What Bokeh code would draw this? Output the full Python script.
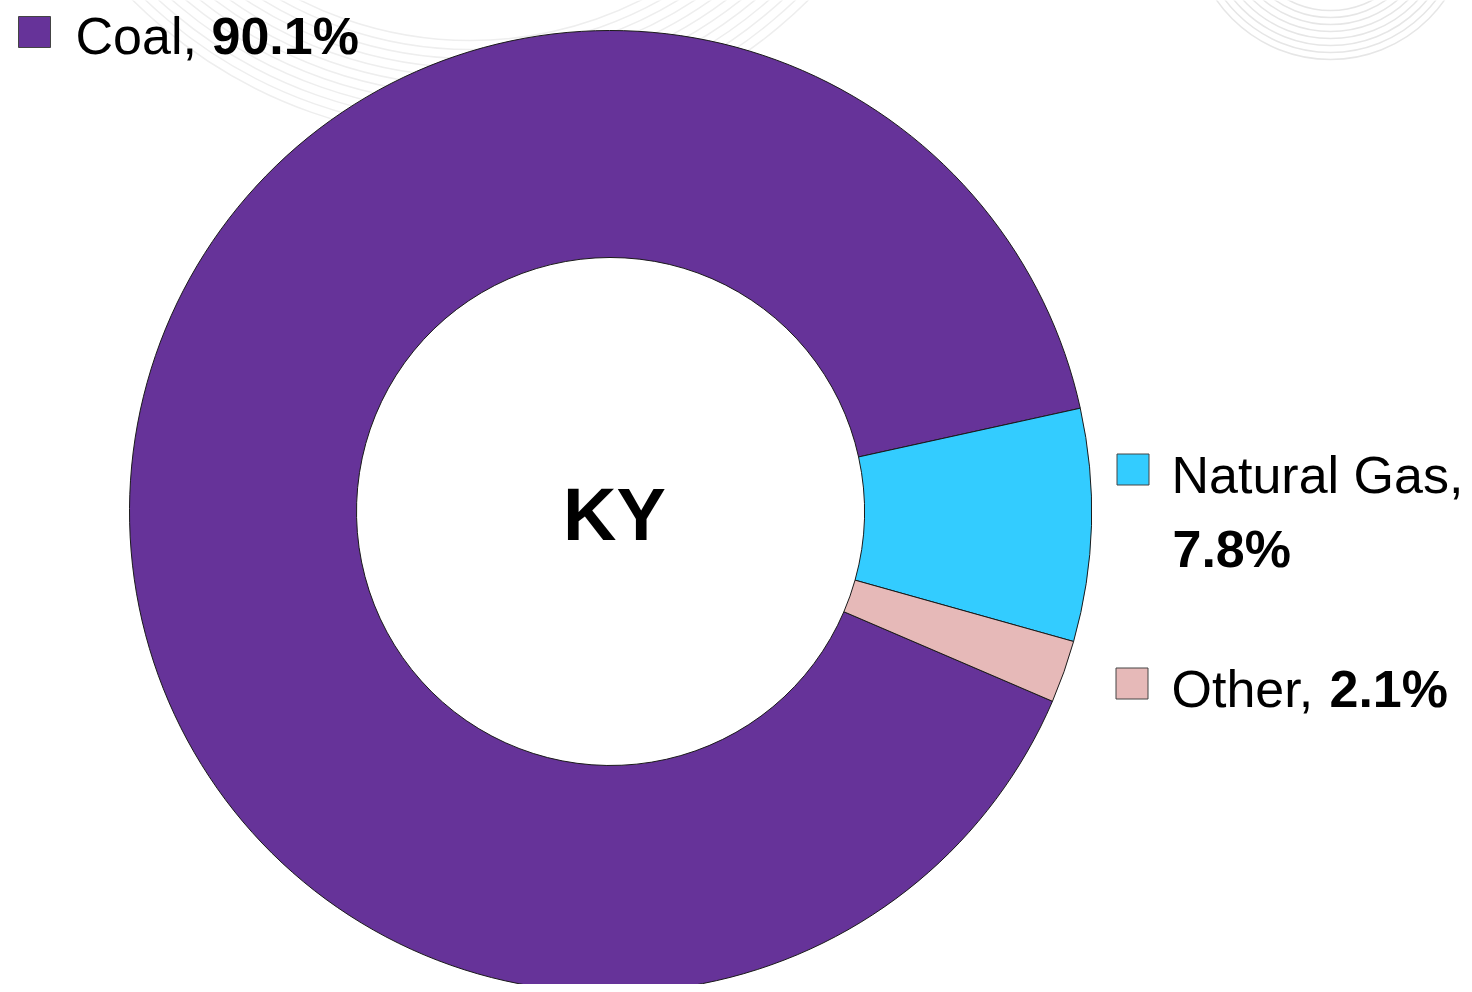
from bokeh.plotting import figure
from bokeh.models import Range1d, ColumnDataSource
from bokeh.core.properties import value
from bokeh.embed import file_html
from bokeh.resources import INLINE
import numpy as np

# ---- data ----
categories = ["Coal", "Natural Gas", "Other"]
shares = [90.1, 7.8, 2.1]
colors = ["#663399", "#33CCFF", "#E6B9B8"]
center_label = "KY"

# ---- layout helpers (screen px -> data) ----
W, H = 1464, 984
def Y(py):
    return H - py

p = figure(width=W, height=H, x_range=Range1d(0, W), y_range=Range1d(0, H),
           output_backend="svg", toolbar_location=None, min_border=0)
p.axis.visible = False
p.grid.visible = False
p.outline_line_color = None
p.background_fill_color = "white"
p.border_fill_color = "white"

# faint decorative watermark curves
wm_r1 = np.arange(90, 140, 7)
p.arc(x=[1330] * len(wm_r1), y=[Y(-80)] * len(wm_r1), radius=wm_r1,
      start_angle=np.radians(180), end_angle=np.radians(360),
      line_color="#e6e6e6", line_width=1.5)
wm_r2 = np.arange(380, 480, 9)
p.arc(x=[470] * len(wm_r2), y=[Y(-340)] * len(wm_r2), radius=wm_r2,
      start_angle=np.radians(190), end_angle=np.radians(350),
      line_color="#eeeeee", line_width=1.5)

# ---- donut ----
cx, cy = 610, Y(511)
r_out, r_in = 481, 254
rot = 12.4 + shares[0] * 3.6  # start angle of first slice (deg)
cum = np.concatenate([[0], np.cumsum(shares)[:-1]])
start = np.radians(rot - cum * 3.6)
end = np.radians(rot - (cum + np.array(shares)) * 3.6)
src = ColumnDataSource(dict(start=start, end=end, color=colors))
p.annular_wedge(x=cx, y=cy, inner_radius=r_in, outer_radius=r_out,
                start_angle="start", end_angle="end", direction="clock",
                fill_color="color", line_color="#1a1a1a", line_width=1, source=src)

FONT = value("Liberation Sans")
p.text(x=[614], y=[Y(514)], text=[center_label], text_font=FONT,
       text_font_style="bold", text_font_size="74px", text_align="center",
       text_baseline="alphabetic", text_color="black")

# ---- legend-style labels ----
sq_x = [34, 1132.5, 1131.5]
sq_y = [Y(31.5), Y(469), Y(683)]
p.rect(x=sq_x, y=sq_y, width=32, height=31, fill_color=colors,
       line_color="#444444", line_width=1)

name_txt = [f"{c}," for c in categories]
val_txt = [f"{s:.1f}%" for s in shares]
name_x = [75, 1171, 1171]
name_y = [Y(35), Y(474), Y(688)]
val_x = [211, 1172, 1329]
val_y = [Y(35), Y(548), Y(688)]
p.text(x=name_x, y=name_y, text=name_txt, text_font=FONT, text_font_size="52px",
       text_baseline="alphabetic", text_color="black")
p.text(x=val_x, y=val_y, text=val_txt, text_font=FONT, text_font_style="bold",
       text_font_size="52px", text_baseline="alphabetic", text_color="black")

open("out.html", "w").write(file_html(p, INLINE))
